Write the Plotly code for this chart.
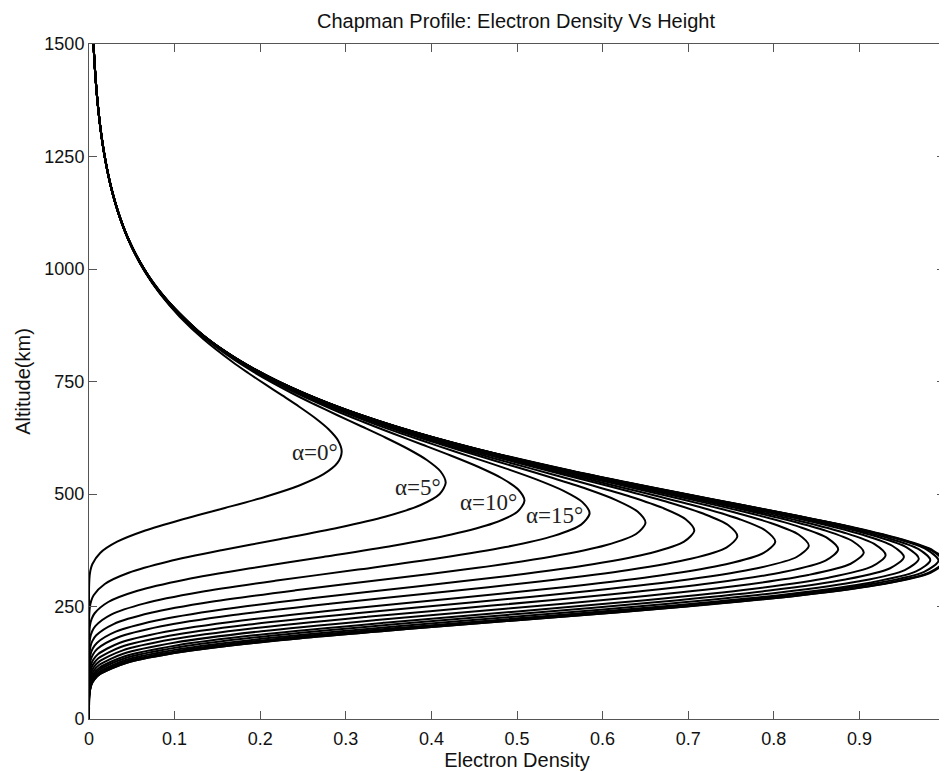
import plotly.graph_objects as go

# Zenith-angle families (curve labels alpha = 0..85 deg, 5 deg steps)
alpha_deg = [0, 5, 10, 15, 20, 25, 30, 35, 40, 45, 50, 55, 60, 65, 70, 75, 80, 85]
# Peak electron density of each curve (normalised)
peak_density = [0.2952, 0.4167, 0.5087, 0.5848, 0.6501, 0.7071, 0.7574, 0.8017, 0.8409,
                 0.8752, 0.9051, 0.9306, 0.9520, 0.9694, 0.9828, 0.9924, 0.9981, 1.0]
# Altitude of each curve's peak (km)
peak_altitude = [594, 525, 485, 457, 436, 419, 406, 394, 385,
                 377, 370, 364, 360, 356, 353, 352, 350, 350]
# Common profile shape: altitude offset from the peak (km) and density / peak density
profile_offset_km = [-400, -350, -325, -300, -275, -262.5, -250, -225, -200, -175, -150, -125,
                     -100, -75, -50, -25, 0, 25, 50, 75, 100, 125, 150, 175, 200, 250,
                     300, 350, 400, 450, 500, 600, 700, 800, 900, 1000, 1100, 1200]
profile_ratio = [0.0, 0.0000006, 0.000021, 0.00032, 0.00261, 0.00616, 0.01302, 0.04420,
                 0.1114, 0.2226, 0.3713, 0.5378, 0.6983, 0.8323, 0.9283, 0.9831, 1.0,
                 0.9857, 0.9481, 0.8948, 0.8320, 0.7647, 0.6966, 0.6301, 0.5668, 0.4534,
                 0.3588, 0.2822, 0.2211, 0.1728, 0.1349, 0.0820, 0.0498, 0.0302, 0.0183,
                 0.0111, 0.00674, 0.00409]

x_ticks = [0, 0.1, 0.2, 0.3, 0.4, 0.5, 0.6, 0.7, 0.8, 0.9, 1]
x_tick_labels = ["0", "0.1", "0.2", "0.3", "0.4", "0.5", "0.6", "0.7", "0.8", "0.9", "1"]
y_ticks = [0, 250, 500, 750, 1000, 1250, 1500]

label_text = ["α=0°", "α=5°", "α=10°", "α=15°"]
label_x = [0.264, 0.384, 0.467, 0.544]
label_y = [593, 515, 481, 452]

SANS = "Liberation Sans, Arial, sans-serif"
W, H = 939, 763  # page body has an 8px margin

fig = go.Figure()
for a, pd_, pa in zip(alpha_deg, peak_density, peak_altitude):
    xs = [pd_ * r for r in profile_ratio]
    ys = [pa + o for o in profile_offset_km]
    fig.add_trace(go.Scatter(x=xs, y=ys, mode="lines", name=f"α={a}°",
                             line=dict(color="black", width=2, shape="spline", smoothing=0.8),
                             showlegend=False, hoverinfo="skip", cliponaxis=True))

for t, x, y in zip(label_text, label_x, label_y):
    fig.add_annotation(x=x, y=y, text=t, showarrow=False,
                       font=dict(family="Liberation Serif, Times New Roman, serif", size=23, color="#222"))

axis_common = dict(showgrid=False, zeroline=False, showline=True, linecolor="#555", linewidth=1,
                   ticks="inside", ticklen=8, tickcolor="#555", mirror="ticks", automargin=False,
                   tickfont=dict(family=SANS, size=18, color="#111"))

fig.update_layout(
    width=W, height=H,
    margin=dict(l=81, r=2, t=36, b=52),
    paper_bgcolor="white", plot_bgcolor="white",
    title=dict(text="Chapman Profile: Electron Density Vs Height", x=508 / W, xanchor="center",
               y=1 - 13 / H, yanchor="middle",
               font=dict(family=SANS, size=20, color="#111")),
    xaxis=dict(range=[0, 1], tickvals=x_ticks, ticktext=x_tick_labels, ticklabelstandoff=3,
               title=dict(text="Electron Density", standoff=0,
                          font=dict(family=SANS, size=20, color="#111")),
               **axis_common),
    yaxis=dict(range=[0, 1500], tickvals=y_ticks,
               title=dict(text="Altitude(km)", standoff=8,
                          font=dict(family=SANS, size=20, color="#111")),
               **axis_common),
)

fig.write_html("out.html")
